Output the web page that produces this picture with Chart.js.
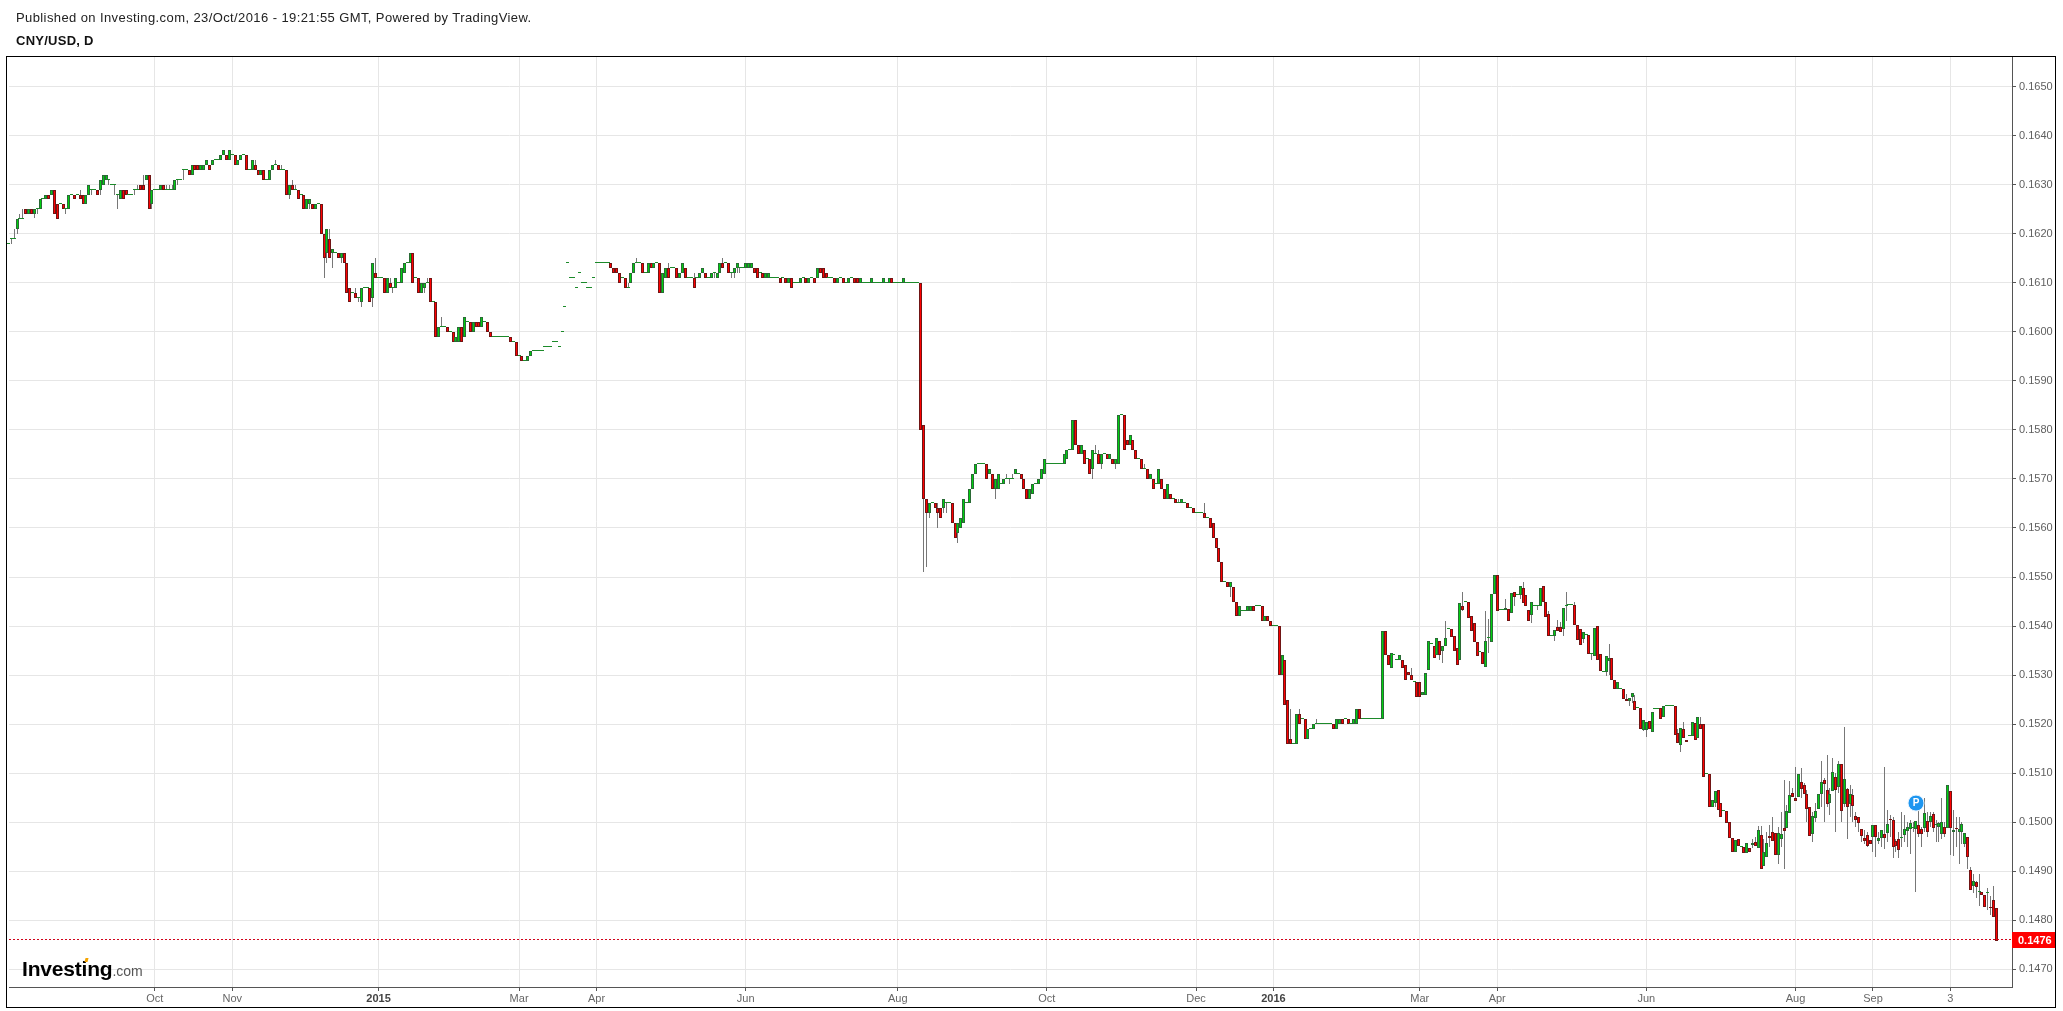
<!DOCTYPE html>
<html>
<head>
<meta charset="utf-8">
<title>CNY/USD, D</title>
<script src="https://cdn.jsdelivr.net/npm/chart.js@4"></script>
<style>
    html, body { margin: 0; padding: 0; background: #fff; }
    body { width: 2063px; height: 1011px; position: relative; overflow: hidden; font-family: "Liberation Sans", Arial, sans-serif; }
    canvas { position: absolute; left: 0; top: 0; }
    .line1 { position: absolute; left: 16px; top: 10px; font-size: 13px; letter-spacing: 0.4px; color: #222; white-space: nowrap; }
    .line2 { position: absolute; left: 16px; top: 33px; font-size: 13px; letter-spacing: 0.26px; font-weight: bold; color: #111; white-space: nowrap; }
    .frame { position: absolute; left: 6px; top: 56px; width: 2050px; height: 952px; border: 1px solid #000; box-sizing: border-box; pointer-events: none; }
    .logo { position: absolute; left: 22px; top: 956px; color: #000; white-space: nowrap; line-height: 26px; }
    .logo b { font-size: 21px; letter-spacing: -0.2px; }
    .logo span { font-size: 14px; color: #555; }
    .dot { position: absolute; left: 85px; top: 958px; width: 3px; height: 4px; background: #f5a400; transform: skewX(-15deg); }
</style>
</head>
<body>
<canvas id="chart" width="2063" height="1011"></canvas>
<div class="line1">Published on Investing.com, 23/Oct/2016 - 19:21:55 GMT, Powered by TradingView.</div>
<div class="line2">CNY/USD, D</div>
<div class="frame"></div>
<div class="logo"><b>Investing</b><span>.com</span></div>
<div class="dot"></div>
<script>
// candles, price in 1/10000: [open] (flat), [open, close] or [open, close, low, high]
const barsLate2014 = [
[1618],[1619,1619,1618,1619],[1619,1619,1619,1621],[1621,1623,1620,1623],[1623,1623,1623,1624],[1623,1623,1623,1625],[1625,1624],[1624,1625],[1625,1624],[1624,1625,1623.3,1625],
[1625,1625,1624,1625],[1625,1627],[1627],[1627,1628],[1628,1627],[1628,1629],[1629,1624],[1626,1623],[1626],[1626,1625],
[1625,1625,1624,1625],[1625,1628],[1628],[1628,1627],[1628],[1628,1627,1627,1629],[1628,1626],[1626,1628],[1628,1630],[1629,1629,1628,1629],
[1629],[1629,1628],[1629,1631,1628,1631],[1630,1632],[1631,1632],[1631,1631,1630,1631],[1630],[1630,1630,1628,1630],[1628,1628,1625,1628],[1627,1629],
[1629,1627],[1629,1628],[1628],[1628],[1629,1629,1628,1629],[1629,1629,1629,1630],[1630,1629],[1630,1629,1629,1632],[1631,1632],[1632,1625],
[1626,1629,1625,1629],[1629],[1629],[1629,1630],[1630,1629],[1629,1629,1629,1630],[1629,1629,1629,1630],[1629,1629,1629,1630],[1629,1631],[1631,1631,1630,1631],
[1631],[1633,1633,1631,1633],[1633],[1633,1632],[1632,1634],[1634,1633],[1634,1633],[1633,1634],[1633,1634],[1634,1635],
[1634,1633],[1634,1635],[1635],[1635],[1635,1636],[1636,1637],[1636,1635],[1635,1637],[1636],[1636,1634],
[1634,1635],[1635,1636],[1636],[1636,1633],[1633],[1633,1635],[1634,1633,1633,1635],[1633,1632],[1632,1633],[1633,1631],
[1631],[1631,1633],[1633,1634],[1634,1634,1634,1635],[1634,1633],[1633,1633,1633,1634],[1633],[1633,1628],[1628,1630,1627,1630],[1630,1629,1629,1631],
[1629,1629,1629,1630],[1629,1627],[1628],[1628,1625],[1625,1627],[1626,1627,1625,1627],[1626,1625],[1625,1626],[1626],[1626,1620],
[1620,1615,1611,1620],[1616,1621,1614,1621],[1619,1615,1615,1621]
];
const barsEarly2015 = [
[1616,1617,1613,1617],[1616],[1616,1615],[1615,1616,1614,1616],[1616,1614],[1614,1608],[1609,1606],[1608],[1608,1607,1607,1609],[1607,1607,1606,1607],
[1606,1609,1605,1609],[1609],[1609],[1609,1606],[1607,1614,1605,1614],[1612,1611,1611,1615],[1611],[1611],[1611,1608],[1608,1611],
[1610,1609,1609,1611],[1609,1609,1608,1609],[1609,1611],[1610],[1610,1613],[1612,1614],[1614],[1614,1616],[1616,1610],[1611],
[1611,1608],[1608,1610],[1609,1610,1608,1610],[1610,1610,1610,1611],[1611,1606],[1606],[1606,1599],[1599,1601],[1601,1601,1601,1603],[1601],
[1601,1600],[1600],[1600,1598],[1598,1599],[1598,1601],[1601,1598],[1599,1603],[1602],[1602,1600],[1600,1602],
[1602,1601],[1602,1601],[1601,1603],[1602],[1602,1600],[1600,1599],[1599],[1599],[1599],[1599],
[1599],[1599],[1599,1598],[1598],[1598,1595],[1595],[1595,1594],[1594],[1594,1595],[1595,1596],
[1596],[1596],[1596],[1596],[1597],[1597],[1597],[1598],[1598],[1597],
[1600],[1605],[1614],[1611],[1611],[1609],[1612],[1610],[1610],[1609],
[1609],[1611]
];
const barsMid2015 = [
[1614],[1614],[1614],[1614],[1614],[1614,1613],[1613,1612],[1613,1612],[1612,1610],[1611],
[1611,1609],[1609,1609,1609,1610],[1610,1612],[1612,1614],[1614,1614,1614,1615],[1614],[1614,1612],[1612],[1612,1614],[1614,1613],
[1613,1614],[1614],[1614,1608],[1608,1612],[1611,1613],[1613,1611,1611,1614],[1613],[1613],[1613,1611],[1611,1612],
[1612,1614],[1613,1611],[1611],[1611],[1611,1609,1609,1612],[1611],[1611,1612],[1612,1613],[1612,1611],[1611],
[1611,1612],[1612,1612,1611,1612],[1611,1612],[1612,1614],[1614,1613,1613,1615],[1614],[1614,1612],[1612,1612,1611,1612],[1612,1613,1611,1613],[1613,1614,1612,1614],
[1613,1613,1612,1613],[1613],[1613,1614],[1613,1614],[1613,1614],[1613,1612],[1613,1611],[1612],[1612,1611],[1611,1612],
[1611,1612],[1611],[1611],[1611],[1611,1610],[1611],[1611,1610],[1610,1611],[1611,1609],[1610],
[1610],[1610,1611],[1611],[1611,1610],[1610,1611],[1611],[1611,1610],[1611,1613],[1613,1612],[1613,1611],
[1612,1611],[1611],[1611],[1611,1610],[1610,1611],[1611],[1611,1610],[1610],[1610,1611],[1611],
[1611,1610],[1611,1610],[1610,1611],[1610],[1610],[1610],[1610,1611],[1610],[1610],[1610],
[1610,1611],[1610],[1610,1611],[1611,1610],[1610],[1610],[1610],[1610,1611],[1610],[1610],
[1610],[1610],[1610],[1610,1580]
];
const barsLate2015 = [
[1581,1566,1551,1581],[1566,1563,1552,1566],[1563,1565,1562,1565],[1565],[1565,1564],[1564,1563,1560,1565],[1564,1562],[1564,1566,1563,1566],[1565,1565,1563,1565],[1565],
[1565,1561],[1561,1558],[1559,1561,1557,1561],[1560,1562],[1561,1566],[1565],[1565,1568],[1568,1571],[1571,1573],[1573],
[1573],[1573],[1573,1570],[1571,1572],[1571,1568],[1568,1570,1566,1570],[1568,1571],[1569],[1569,1570],[1570,1570,1570,1571],
[1570,1570,1569,1570],[1570,1570,1570,1571],[1571,1572],[1571],[1571,1570],[1570,1568],[1568,1566],[1566,1568],[1567,1569],[1569],
[1569,1570],[1570,1572],[1571,1574],[1573],[1573],[1573],[1573],[1573],[1573],[1573,1575],
[1574,1576],[1576],[1576,1582],[1582,1577],[1577,1575],[1575,1577],[1576,1573],[1574],[1574,1571],[1572,1576,1570,1576],
[1575,1575,1575,1577],[1575,1573,1573,1576],[1573,1575,1572,1575],[1575],[1575,1574],[1574,1575],[1574,1573],[1573,1574,1572,1574],[1573,1583],[1583],
[1583,1576],[1578,1577],[1577,1579],[1578,1576],[1576,1574],[1574],[1574,1572],[1572,1572,1572,1573],[1572,1570],[1570,1571],
[1570,1568],[1569],[1569,1572],[1570,1568],[1568,1566],[1566,1569],[1567,1566],[1566],[1566,1565],[1565,1565,1565,1566],
[1565,1566],[1565],[1565,1564],[1564],[1564,1563],[1563],[1563],[1563],[1563,1562,1562,1565],[1562],
[1562,1560],[1561,1558],[1558,1556],[1556,1553],[1553,1549],[1549],[1549,1548],[1548,1549,1546,1549],[1548,1545],[1545,1542],
[1542,1544],[1543],[1543],[1543,1544],[1543,1544],[1544,1543],[1544],[1544],[1544,1541],[1541,1542],
[1542,1541],[1541,1540],[1540],[1540]
];
const barsEarly2016 = [
[1540,1530],[1530,1534],[1533,1524],[1525,1516],[1517,1516,1516,1523],[1516],[1516,1522],[1522,1520,1520,1523],[1521],[1521,1517],
[1517,1519],[1519],[1519,1520],[1520,1520,1520,1521],[1520],[1520],[1520],[1520],[1520],[1520,1519],
[1519,1521],[1520,1521],[1521,1520],[1521],[1521,1520],[1520],[1520,1521],[1520,1523],[1523,1521],[1521],
[1521],[1521],[1521],[1521],[1521],[1521],[1521,1539],[1539,1534],[1534,1532],[1531.5,1534.5],
[1534],[1533],[1533,1534],[1533,1531.5],[1532,1529],[1530.6,1530],[1530,1529,1529,1531.5],[1528.5],[1528.5,1525.5],[1528.5,1525.5],
[1526,1526.5],[1526,1530.5],[1531,1537],[1536.3],[1536,1533.5],[1534,1537.5],[1537,1534,1533,1537],[1535,1536,1532.5,1536],[1536,1537.5,1536,1541],[1539.4],
[1539.4,1537.8],[1538,1535],[1535.5,1532],[1533,1544.7],[1544,1543.3,1543,1547],[1545],[1545,1541.7],[1542,1539],[1540.6,1536.7],[1536.7,1533.9],
[1534.7],[1534.7,1532.2],[1531.6,1537,1531.6,1543],[1537.6,1537.6,1534.6,1541.4],[1536.7,1546.5],[1546.5,1550.4],[1550.4,1543],[1543.3],[1543.3],[1543.3,1543.7,1543.3,1545.5],
[1543.5,1541],[1542.6,1546.7],[1547,1546,1544,1547],[1546.3],[1546.3,1548.2,1545.6,1548.2],[1547.8,1544.7,1544.7,1549],[1546.3,1544],[1543.3,1541],[1542.2,1545,1540.7,1545],[1544],
[1544,1544,1543.3,1544],[1544,1547.8],[1548.2,1544.9],[1545,1541.8],[1542.4,1538,1538,1543],[1538],[1538,1539.2,1537,1539.2],[1539.8,1539,1539,1541.2],[1539.8,1538.8,1538.8,1540.8],[1539.4,1543.7,1538,1543.7],
[1544,1544,1541,1547],[1544.3],[1544.3],[1544.3,1540.2,1540.2,1545],[1540.2,1537.1],[1539.4,1536.1],[1537.3,1538.8,1536.5,1538.8],[1538.2],[1538.2,1534.3],[1534.3,1534.3,1533,1534.3],
[1533.9,1539.6],[1540,1533],[1534.3,1530.8],[1530.6],[1530.6,1533.9,1529.8,1533.9],[1532.9,1533.5,1530,1536.3],[1533.5,1529],[1529,1527.1],[1527.1,1528.6],[1527.1],
[1527.1,1525.1],[1525.1,1524.7,1524.7,1526.1],[1524.7,1525.3,1523.7,1525.3],[1525.5,1526.3,1524.4,1526.3],[1524.7,1522.9,1522.9,1526],[1523.3],[1523.3,1519],[1518.8,1520.8,1518.6,1520.8],[1518.8,1520.4,1517.3,1520.4],[1520.6,1519],
[1518.4,1522.4],[1523],[1523],[1523.3,1521],[1521.4,1523.7],[1523.7],[1523.7],[1523.7],[1523.7,1517.8],[1518.2,1516.1,1516.1,1519],
[1515.7,1519.2,1514.3,1519.2],[1519,1517.1,1517.1,1520.4],[1516.7,1516.3],[1517.6],[1517.6,1520.4],[1520.2,1516.7],[1517.1,1521.4],[1520,1519,1519,1521.4],[1520,1509.2],[1509.8]
];
const barsLate2016 = [
[1509.8,1503],[1503,1504.5],[1503.9,1506.3,1503,1506.3],[1506.5,1502.4],[1503.9,1501],[1502.2],[1502.2,1499.8],[1500,1496.7],[1496.7,1493.9],[1493.9,1496.3],
[1496.5,1495.1],[1494.9],[1494.9,1493.7],[1493.7,1495.7],[1494.7,1493.9],[1495.3,1495.7,1494.7,1496.5],[1495.9,1495.1,1495.1,1497],[1494.7,1498.4,1494.7,1499.3],[1497.3,1490.4,1490.4,1499.3],[1491,1493.9,1491,1496.5],
[1493,1495.7,1493,1498],[1497.1,1496.7,1495,1499.5],[1498,1496.1,1496.1,1501],[1497.8,1493.3],[1493.3,1497.8,1491.5,1499],[1496.5,1497.6,1495,1502],[1498.8,1498.2,1490.4,1508.7],[1498.8,1502.2,1498.8,1503.5],[1501.8,1505.5,1501.8,1508.5],[1505.9,1505.1,1505.1,1507],
[1504.9,1504.3,1504.3,1511.3],[1505.1,1509.8],[1508.2,1506.7,1505,1511],[1507.6,1505.7,1505.7,1508],[1505.7,1502.7,1500,1506.5],[1503,1497.1],[1497.6,1501.2,1496,1502],[1500.8,1502.2,1500,1504],[1502.7,1505.7],[1505.7,1508.2,1503,1512.5],
[1508.6,1507.8,1500,1509],[1506.5,1503.7,1503,1513.7],[1503.9,1505.7,1501.5,1507],[1506.3,1510.2,1506.3,1513],[1509.2,1506.5,1498,1510],[1507.1,1511.8,1506,1512.5],[1511.8,1502.2,1500,1511.8],[1503.7,1508.8,1503,1519.5],[1506.7,1503,1496.5,1507],[1503.7,1505.7,1501,1507.5],
[1505.5,1503.3,1500,1506.8],[1501.2,1500.4,1499,1502],[1501,1499.8,1498,1501],[1498.6,1497.1,1496,1498.6],[1496.7,1496.1,1495.5,1498.5],[1497.3,1495.1,1495,1498],[1496.3,1495.5],[1497,1499.4,1494,1499.4],[1499.4,1497,1493,1499.4],[1496.1,1496.7,1495.5,1498],
[1496.7,1498.4,1495,1498.4],[1497.6,1496.7,1494.5,1511.3],[1497.8,1499.6,1496,1502.5],[1500.6,1500.5,1497,1501.5],[1500.4,1494.9,1492.7,1501],[1496.1,1495.1,1494,1496.5],[1496.5,1494.3,1492.8,1498],[1496.7,1496.7,1495,1502],[1497.3,1498.6,1496,1501.5],[1498.2,1499,1495,1500],
[1498.6,1499.8,1493.5,1500.5],[1498.8,1498.8,1498,1500],[1498.6,1500.2,1485.7,1500.2],[1499.4,1497.6,1497,1504],[1498.6,1497.6,1495,1499],[1498.8,1501.8,1498,1505],[1500.2,1498,1497,1502],[1500,1501.2,1499,1502],[1501.6,1498.8,1498,1502],[1499.4,1499.4,1496,1500.5],
[1499,1499.8,1496,1500],[1497.6,1500,1496.5,1505],[1499,1497.6,1497,1500],[1498.8,1507.5],[1506.3,1498.8,1493.3,1506.3],[1498,1498.4,1493.2,1502.5],[1498.8,1498.6,1495,1501],[1498,1498.6,1491.5,1501],[1498,1499.6,1495.5,1500],[1495.5,1497.8,1495,1497.8],
[1497,1493,1490.5,1497],[1490.2,1486.1,1486.1,1490.8],[1487,1488,1485.5,1489.5],[1487.8,1486.8,1484.5,1488],[1485.7,1485.7,1483,1489.5],[1485.7,1485.1],[1485.1,1482.7,1482.7,1485.1],[1485.5,1485.5,1482,1486.5],[1482.7,1482.6,1481,1485],[1484.1,1480.6,1480.6,1487],
[1482.5,1475.7,1475.7,1482.5]
];

// x axis labels sit on these bar numbers
const tickIndexes = [51, 78, 129, 178, 205, 257, 310, 362, 414, 441, 492, 519, 571, 623, 650, 677];
const tickLabels = ['Oct', 'Nov', '2015', 'Mar', 'Apr', 'Jun', 'Aug', 'Oct', 'Dec', '2016', 'Mar', 'Apr', 'Jun', 'Aug', 'Sep', '3'];
const priceTicks = [0.147, 0.148, 0.149, 0.150, 0.151, 0.152, 0.153, 0.154, 0.155, 0.156, 0.157, 0.158, 0.159, 0.160, 0.161, 0.162, 0.163, 0.164, 0.165];
const lastPrice = 0.1476;
const badgeBar = 665;
const badgePrice = 0.15039;

const allBars = [...barsLate2014, ...barsEarly2015, ...barsMid2015, ...barsLate2015, ...barsEarly2016, ...barsLate2016];

const opens = allBars.map(b => b[0]);
const closes = allBars.map(b => b.length > 1 ? b[1] : b[0]);
const lows = allBars.map((b, i) => b.length > 2 ? b[2] : Math.min(opens[i], closes[i]));
const highs = allBars.map((b, i) => b.length > 3 ? b[3] : Math.max(opens[i], closes[i]));

const green = '#00d010';
const red = '#ff0000';
const greenEdge = '#2a6a35';
const redEdge = '#701515';

const xMin = 0.17;
const xMax = 698.47;

// bodies
const bodyData = allBars.map((b, i) => ({
    x: i,
    y: [Math.min(opens[i], closes[i]) / 10000, Math.max(opens[i], closes[i]) / 10000]
}));
const wickData = allBars.map((b, i) => ({ x: i, y: [lows[i] / 10000, highs[i] / 10000] }));

const isYear = c => !!c.tick && /^\d{4}$/.test(c.tick.label);

// keep the marks on whole pixels so they stay sharp like the original
const snapBars = {
    id: 'snapBars',
    beforeDatasetsDraw(chart) {
        chart.getSortedVisibleDatasetMetas().forEach(meta => {
            if (meta.type === 'bar') {
                meta.data.forEach(el => {
                    el.x = Math.round(el.x - 0.5) + 0.5;
                    el.y = Math.round(el.y);
                    el.base = Math.round(el.base);
                    if (meta.index === 1 && Math.abs(el.base - el.y) < 1) {
                        el.base = el.y + 1;
                    }
                });
            }
            if (meta.type === 'line' && meta.index === 2) {
                meta.data.forEach(el => { el.y = Math.floor(el.y) + 0.5; });
            }
        });
    }
};

// price tag on the axis and the P in the badge
const overlay = {
    id: 'overlay',
    afterDraw(chart) {
        const ctx = chart.ctx;
        const y = chart.scales.y.getPixelForValue(lastPrice);
        ctx.save();
        ctx.fillStyle = '#ff0000';
        ctx.fillRect(chart.chartArea.right, Math.round(y) - 8, 43, 16);
        ctx.fillStyle = '#fff';
        ctx.font = 'bold 11px "Liberation Sans"';
        ctx.textBaseline = 'middle';
        ctx.textAlign = 'left';
        ctx.fillText(lastPrice.toFixed(4), chart.chartArea.right + 6, Math.round(y) + 0.5);

        const px = chart.scales.x.getPixelForValue(badgeBar);
        const py = chart.scales.y.getPixelForValue(badgePrice);
        ctx.font = 'bold 10px "Liberation Sans"';
        ctx.textAlign = 'center';
        ctx.fillText('P', px, py + 0.5);
        ctx.restore();
    }
};

new Chart(document.getElementById('chart').getContext('2d'), {
    data: {
        datasets: [
            {
                type: 'bar',
                data: wickData,
                order: 3,
                clip: false,
                grouped: false,
                barThickness: 1,
                backgroundColor: '#777777',
                borderWidth: 0,
                inflateAmount: 0
            },
            {
                type: 'bar',
                data: bodyData,
                order: 2,
                clip: false,
                grouped: false,
                barThickness: 3,
                minBarLength: 1,
                backgroundColor: allBars.map((b, i) => closes[i] < opens[i] ? red : green),
                borderColor: allBars.map((b, i) => closes[i] < opens[i] ? redEdge : (closes[i] === opens[i] ? '#1c8a2a' : greenEdge)),
                borderWidth: 1,
                borderSkipped: false,
                inflateAmount: 0
            },
            {
                type: 'line',
                data: [{ x: xMin, y: lastPrice }, { x: xMax, y: lastPrice }],
                order: 1,
                borderColor: '#d0021b',
                borderWidth: 1,
                borderDash: [2, 2],
                pointRadius: 0
            },
            {
                type: 'scatter',
                data: [{ x: badgeBar, y: badgePrice }],
                order: 0,
                pointRadius: 8,
                pointBackgroundColor: '#1e96f0',
                pointBorderColor: '#e8f4ff',
                pointBorderWidth: 1
            }
        ]
    },
    options: {
        responsive: false,
        animation: false,
        layout: { padding: { left: 6, top: 56, right: 0, bottom: 0 } },
        plugins: { legend: { display: false }, tooltip: { enabled: false } },
        scales: {
            x: {
                type: 'linear',
                bounds: 'data',
                offset: false,
                min: xMin,
                max: xMax,
                afterBuildTicks: scale => { scale.ticks = tickIndexes.map(v => ({ value: v })); },
                afterFit: scale => { scale.height = 24; scale.paddingLeft = 0; scale.paddingRight = 0; },
                grid: { offset: false, color: '#e6e6e6', lineWidth: 1, tickColor: '#555', tickLength: 4 },
                border: { color: '#555' },
                ticks: {
                    autoSkip: false,
                    maxRotation: 0,
                    padding: 1,
                    color: c => isYear(c) ? '#444' : '#666',
                    font: c => ({ family: 'Liberation Sans', size: 11, weight: isYear(c) ? 'bold' : 'normal' }),
                    callback: v => tickLabels[tickIndexes.indexOf(v)]
                }
            },
            y: {
                position: 'right',
                bounds: 'data',
                min: 0.146639,
                max: 0.165626,
                afterBuildTicks: scale => { scale.ticks = priceTicks.map(v => ({ value: v })); },
                afterFit: scale => { scale.width = 51; scale.paddingTop = 0; scale.paddingBottom = 0; },
                grid: { color: '#e6e6e6', lineWidth: 1, tickColor: '#555', tickLength: 4 },
                border: { color: '#555' },
                ticks: {
                    padding: 3,
                    color: '#5f5f5f',
                    font: { family: 'Liberation Sans', size: 11 },
                    callback: v => v.toFixed(4)
                }
            }
        }
    },
    plugins: [snapBars, overlay]
});
</script>
</body>
</html>
